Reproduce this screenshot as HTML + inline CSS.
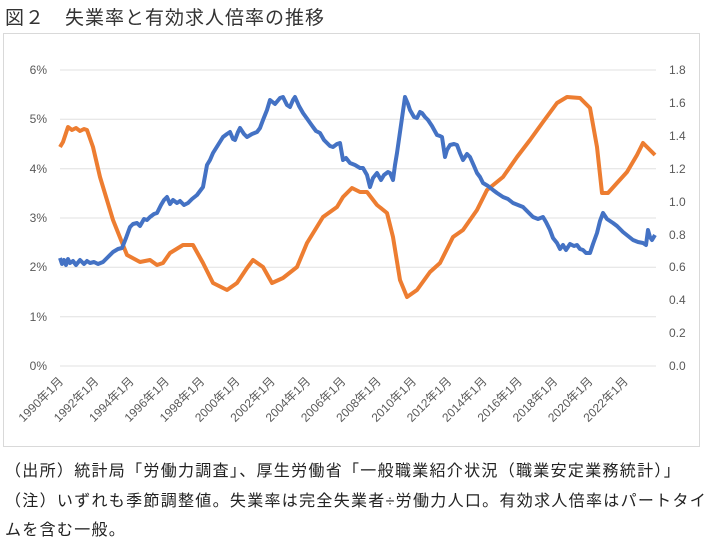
<!DOCTYPE html><html><head><meta charset="utf-8"><style>
body{margin:0;width:705px;height:546px;background:#fff;overflow:hidden;font-family:"Liberation Sans","Noto Sans CJK JP",sans-serif;}
.t{position:absolute;left:5px;top:3px;font-size:19px;color:#333;letter-spacing:1px}
.f{position:absolute;left:5px;font-size:16px;color:#222;white-space:nowrap;letter-spacing:1.3px}
</style></head><body>
<div class="t">図２　失業率と有効求人倍率の推移</div>
<svg width="705" height="546" style="position:absolute;left:0;top:0">
<rect x="3.5" y="33.5" width="696" height="413" fill="none" stroke="#d9d9d9"/>
<g stroke="#e0e0e0" stroke-width="1">
<line x1="60" x2="656" y1="70" y2="70"/><line x1="60" x2="656" y1="119.3" y2="119.3"/><line x1="60" x2="656" y1="168.7" y2="168.7"/><line x1="60" x2="656" y1="218" y2="218"/><line x1="60" x2="656" y1="267.3" y2="267.3"/><line x1="60" x2="656" y1="316.7" y2="316.7"/><line x1="60" x2="656" y1="366" y2="366"/></g>
<g font-size="12" fill="#595959" text-anchor="end" font-family="Liberation Sans, sans-serif">
<text x="47" y="74">6%</text><text x="47" y="123">5%</text><text x="47" y="173">4%</text><text x="47" y="222">3%</text><text x="47" y="271">2%</text><text x="47" y="321">1%</text><text x="47" y="370">0%</text></g>
<g font-size="12" fill="#595959" font-family="Liberation Sans, sans-serif">
<text x="669" y="74">1.8</text><text x="669" y="107">1.6</text><text x="669" y="140">1.4</text><text x="669" y="173">1.2</text><text x="669" y="206">1.0</text><text x="669" y="239">0.8</text><text x="669" y="271">0.6</text><text x="669" y="304">0.4</text><text x="669" y="337">0.2</text><text x="669" y="370">0.0</text></g>
<g font-size="12" fill="#595959" text-anchor="end" font-family="Liberation Sans, Noto Sans CJK JP, sans-serif">
<text transform="translate(64,382) rotate(-45)">1990年1月</text>
<text transform="translate(99.3,382) rotate(-45)">1992年1月</text>
<text transform="translate(134.6,382) rotate(-45)">1994年1月</text>
<text transform="translate(169.9,382) rotate(-45)">1996年1月</text>
<text transform="translate(205.2,382) rotate(-45)">1998年1月</text>
<text transform="translate(240.5,382) rotate(-45)">2000年1月</text>
<text transform="translate(275.8,382) rotate(-45)">2002年1月</text>
<text transform="translate(311.1,382) rotate(-45)">2004年1月</text>
<text transform="translate(346.4,382) rotate(-45)">2006年1月</text>
<text transform="translate(381.7,382) rotate(-45)">2008年1月</text>
<text transform="translate(417,382) rotate(-45)">2010年1月</text>
<text transform="translate(452.3,382) rotate(-45)">2012年1月</text>
<text transform="translate(487.6,382) rotate(-45)">2014年1月</text>
<text transform="translate(522.9,382) rotate(-45)">2016年1月</text>
<text transform="translate(558.2,382) rotate(-45)">2018年1月</text>
<text transform="translate(593.5,382) rotate(-45)">2020年1月</text>
<text transform="translate(628.8,382) rotate(-45)">2022年1月</text></g>
<polyline fill="none" stroke="#ED7D31" stroke-width="4" stroke-linejoin="round" points="60,147 63,142 68,127 72,130 76,128 80,131 84,129 87,130 93,147 100,177 113,220 127,255 140,262 150,260 157,265 163,263 170,253 183,245 193,245 203,263 213,283 227,290 237,283 247,268 253,260 263,267 272,283 283,278 297,267 307,243 323,217 337,207 343,197 352,188 360,192 367,192 377,205 387,213 393,237 400,280 407,297 417,290 430,272 440,263 453,237 463,230 477,210 487,190 503,177 517,157 530,140 543,122 557,103 567,97 580,98 590,108 597,147 602,193 608,193 617,183 627,172 637,155 643,143 650,150 655,155"/>
<polyline fill="none" stroke="#4472C4" stroke-width="4" stroke-linejoin="round" points="60,258 62,264 64,260 66,265 68,259 70,263 73,261 76,265 80,260 84,264 87,261 90,263 94,262 98,264 103,262 108,257 113,252 118,249 122,248 126,238 130,227 133,224 137,223 140,226 144,219 147,220 150,217 154,214 157,213 161,205 164,200 167,197 170,204 173,200 177,203 180,201 184,205 188,203 192,199 197,195 203,187 205,176 207,165 210,160 213,153 218,145 223,137 227,134 230,132 233,139 235,140 238,132 240,128 244,134 247,137 252,134 257,132 260,128 263,120 267,110 270,100 275,104 280,98 283,97 287,105 290,107 293,100 295,97 299,106 303,113 308,120 313,127 316,131 320,133 324,140 327,143 330,146 333,147 337,144 340,143 343,160 346,158 350,163 355,165 360,168 363,168 367,175 370,187 373,178 377,173 381,180 384,175 388,172 390,173 393,180 395,165 397,153 401,125 405,97 408,104 410,110 414,117 417,118 420,112 422,113 425,117 428,120 432,126 437,135 440,136 442,137 445,157 447,150 450,145 454,144 457,145 460,153 463,160 467,154 470,157 474,166 477,173 480,177 483,183 488,186 493,190 497,193 503,197 508,199 513,203 518,205 523,207 528,212 533,217 538,219 543,217 546,222 550,230 553,238 557,243 560,249 563,245 566,250 570,244 574,246 577,245 580,249 583,250 586,253 590,253 593,244 597,233 600,221 603,213 607,219 610,221 613,223 617,226 620,229 623,232 628,236 633,240 638,242 643,243 646,245 648,230 650,237 652,240 655,235"/>
</svg>
<div class="f" style="top:457px">（出所）統計局「労働力調査」、厚生労働省「一般職業紹介状況（職業安定業務統計）」</div>
<div class="f" style="top:487px">（注）いずれも季節調整値。失業率は完全失業者÷労働力人口。有効求人倍率はパートタイ</div>
<div class="f" style="top:516px">ムを含む一般。</div>
</body></html>
